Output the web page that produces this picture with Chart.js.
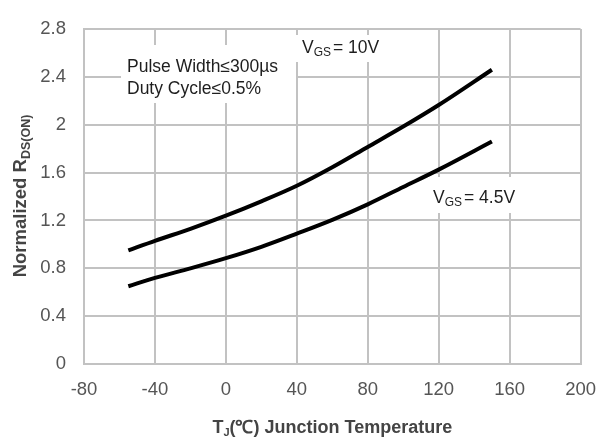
<!DOCTYPE html>
<html lang="en">
<head>
    <meta charset="UTF-8">
    <title>Normalized RDS(ON) vs Junction Temperature</title>
    <script src="https://cdn.jsdelivr.net/npm/chart.js"></script>
    <style>
        html, body {
            margin: 0;
            padding: 0;
            background: #ffffff;
        }
        #wrap {
            width: 611px;
            height: 442px;
        }
    </style>
</head>
<body>
    <div id="wrap"><canvas id="chart"></canvas></div>
    <script>
        // junction temperature (°C)
        const temps = [-55, -40, -20, 0, 20, 40, 60, 80, 100, 120, 150];
        const vgs10 = [0.95, 1.03, 1.13, 1.24, 1.36, 1.49, 1.645, 1.815, 1.985, 2.165, 2.46];
        const vgs45 = [0.65, 0.72, 0.80, 0.885, 0.98, 1.09, 1.205, 1.335, 1.48, 1.625, 1.86];
        const xTicks = [-80, -40, 0, 40, 80, 120, 160, 200];
        const yTicks = [0, 0.4, 0.8, 1.2, 1.6, 2, 2.4, 2.8];

        const font = "'Liberation Sans', Arial, sans-serif";

        function points(ys) {
            return temps.map(function (t, i) {
                return { x: t, y: ys[i] };
            });
        }

        // draws pieces of text one after another, subscripts dropped a bit
        function runs(ctx, x, y, parts) {
            parts.forEach(function (p) {
                ctx.font = p[1] + 'px ' + font;
                ctx.fillText(p[0], x, y + (p[2] || 0));
                x += ctx.measureText(p[0]).width + (p[3] || 0);
            });
        }
        function runsWidth(ctx, parts) {
            let w = 0;
            parts.forEach(function (p) {
                ctx.font = p[1] + 'px ' + font;
                w += ctx.measureText(p[0]).width + (p[3] || 0);
            });
            return w;
        }

        // white boxed labels and subscripted axis titles
        const textPlugin = {
            id: 'textPlugin',
            afterDraw: function (chart) {
                const ctx = chart.ctx;
                const xs = chart.scales.x;
                ctx.save();

                // label boxes break the grid like in the original
                ctx.fillStyle = '#ffffff';
                ctx.fillRect(121, 45, 175, 58);
                ctx.fillRect(293, 35, 89, 27);
                ctx.fillRect(428, 177, 93, 36);

                ctx.fillStyle = '#1e1e1e';
                ctx.textBaseline = 'middle';
                ctx.textAlign = 'left';
                ctx.font = '17.5px ' + font;
                ctx.fillText('Pulse Width\u2264300\u00b5s', 127, 67);
                ctx.fillText('Duty Cycle\u22640.5%', 127, 89);

                runs(ctx, 302, 48, [['V', 17.5], ['GS', 12, 5, 2], ['= 10V', 17.5]]);
                runs(ctx, 433, 198, [['V', 17.5], ['GS', 12, 5, 2], ['= 4.5V', 17.5]]);

                // x title
                ctx.fillStyle = '#444444';
                const xt = [['T', 'bold 18'], ['J', 'bold 11', 5], ['(\u2103) Junction Temperature', 'bold 18']];
                const xw = runsWidth(ctx, xt);
                runs(ctx, (xs.left + xs.right) / 2 - xw / 2, 428, xt);

                // y title, rotated
                ctx.translate(21, 196);
                ctx.rotate(-Math.PI / 2);
                const yt = [['Normalized R', 'bold 18.5'], ['DS(ON)', 'bold 12.5', 6]];
                const yw = runsWidth(ctx, yt);
                runs(ctx, -yw / 2, 0, yt);
                ctx.restore();
            }
        };

        const lineStyle = {
            borderColor: '#000000',
            borderWidth: 4,
            pointRadius: 0,
            fill: false,
            cubicInterpolationMode: 'monotone'
        };

        const config = {
            type: 'line',
            data: {
                datasets: [
                    Object.assign({ label: 'VGS = 10V', data: points(vgs10) }, lineStyle),
                    Object.assign({ label: 'VGS = 4.5V', data: points(vgs45) }, lineStyle)
                ]
            },
            options: {
                responsive: true,
                maintainAspectRatio: false,
                animation: false,
                layout: {
                    padding: { left: 0, top: 16, right: 29, bottom: 0 }
                },
                plugins: {
                    legend: { display: false },
                    tooltip: { enabled: false }
                },
                scales: {
                    x: {
                        type: 'linear',
                        min: -80,
                        max: 200,
                        afterBuildTicks: function (scale) {
                            scale.ticks = xTicks.map(function (v) { return { value: v }; });
                        },
                        afterFit: function (scale) {
                            scale.height = 78;
                        },
                        grid: {
                            color: '#c2c2c2',
                            lineWidth: 2,
                            drawTicks: false
                        },
                        border: { color: '#c2c2c2', width: 2 },
                        ticks: {
                            padding: 15,
                            color: '#555555',
                            font: { family: font, size: 18.5 }
                        }
                    },
                    y: {
                        min: 0,
                        max: 2.8,
                        afterBuildTicks: function (scale) {
                            scale.ticks = yTicks.map(function (v) { return { value: v }; });
                        },
                        afterFit: function (scale) {
                            scale.width = 84;
                        },
                        grid: {
                            color: '#c2c2c2',
                            lineWidth: 2,
                            drawTicks: false
                        },
                        border: { color: '#c2c2c2', width: 2 },
                        ticks: {
                            padding: 18,
                            color: '#555555',
                            font: { family: font, size: 18.5 },
                            callback: function (v) { return String(v); }
                        }
                    }
                }
            },
            plugins: [textPlugin]
        };

        new Chart(document.getElementById('chart'), config);
    </script>
</body>
</html>
